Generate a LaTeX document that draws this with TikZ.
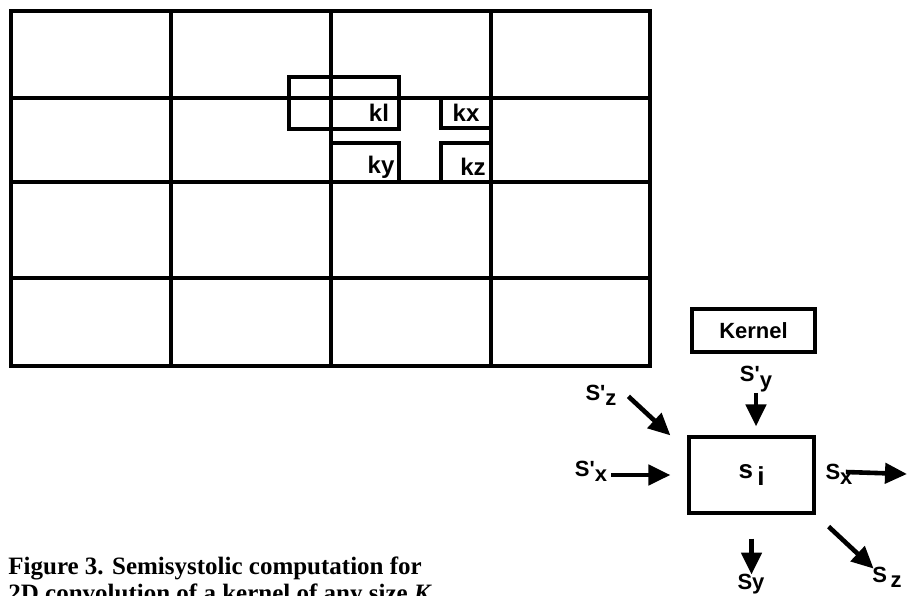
\documentclass[tikz,border=0pt]{standalone}
\usepackage{fontspec}
\setmainfont{Liberation Serif}
\setsansfont{Liberation Sans}
\usetikzlibrary{arrows.meta, positioning, calc}
\newcommand{\lowsub}[1]{\raisebox{-0.45ex}{#1}}
\tikzset{
	gridline/.style={line width=2pt},
	winline/.style={line width=1.6pt},
	klabel/.style={font=\sffamily\bfseries\fontsize{12}{13}\selectfont, inner sep=0pt},
	slabel/.style={font=\sffamily\bfseries\fontsize{11}{12}\selectfont, inner sep=0.5pt},
	cell/.style={draw, line width=1.6pt, inner sep=0pt},
	flow/.style={-{Triangle[length=11pt,width=10pt]}, line width=2.3pt},
	caption/.style={font=\bfseries\fontsize{12.5}{13.5}\selectfont, align=left, inner sep=0pt}
}

\begin{document}
\begin{tikzpicture}[x=0.5pt, y=-0.5pt]
	\useasboundingbox (0,0) rectangle (914,595);
	% image grid
	\draw[gridline] (10.5,10.5) rectangle (650,366);
	\foreach \x in {171,331,491} \draw[gridline] (\x,10.5) -- (\x,366);
	\foreach \y in {97.5,182,278} \draw[gridline] (10.5,\y) -- (650,\y);
	% kernel window
	\draw[winline] (289,77) rectangle (399,129);
	\draw[winline] (441,97.5) |- (491,128);
	\draw[winline] (331,143) -| (399,182);
	\draw[winline] (441,182) |- (491,143);
	\node[klabel] (kl) at (379,113) {kl};
	\node[klabel] (kx) at (466,113) {kx};
	\node[klabel] (ky) at (381,167) {ky};
	\node[klabel] (kz) at (473,167) {kz};
	% cell
	\node[cell, minimum width=61.5pt, minimum height=21.5pt, font=\sffamily\bfseries\fontsize{11}{12}\selectfont] (kernel) at (753.5,330.5) {Kernel};
	\node[cell, minimum width=62.5pt, minimum height=38pt, font=\sffamily\bfseries\fontsize{13}{14}\selectfont] (si) at (751.5,475) {s\,\lowsub{i}};
	\node[slabel] (spy) at (756,379) {S\textquotesingle\lowsub{y}};
	\node[slabel] (spz) at (601,395) {S\textquotesingle\lowsub{z}};
	\node[slabel] (spx) at (591,471) {S\textquotesingle\lowsub{x}};
	\node[slabel] (sx) at (839,474) {S\lowsub{x}};
	\node[slabel] (sy) at (751,584) {Sy};
	\node[slabel] (sz) at (887,577) {S\,\lowsub{z}};
	\coordinate (sxend) at (907,474);
	\draw[flow] (spy.south) -- ([yshift=4.5pt]spy.south |- si.north);
	\draw[flow] ([shift={(-59,-39)}]si.north west) -- ([shift={(-17,0)}]si.north west);
	\draw[flow] ([shift={(-76,0)}]si.west) -- ([shift={(-17,0)}]si.west);
	\draw[flow] ([xshift=-4pt,yshift=1pt]sx.east) -- (sxend);
	\draw[flow] ([yshift=-12pt]si.south) -- ([yshift=-30pt]si.south);
	\draw[flow] ([shift={(13,12)}]si.south east) -- ([shift={(58,54)}]si.south east);
	% caption
	\node[caption, anchor=base west] (cap) at (8,601) {Figure 3. Semisystolic computation for\\2D convolution of a kernel of any size \textit{K}.};
\end{tikzpicture}
\end{document}
